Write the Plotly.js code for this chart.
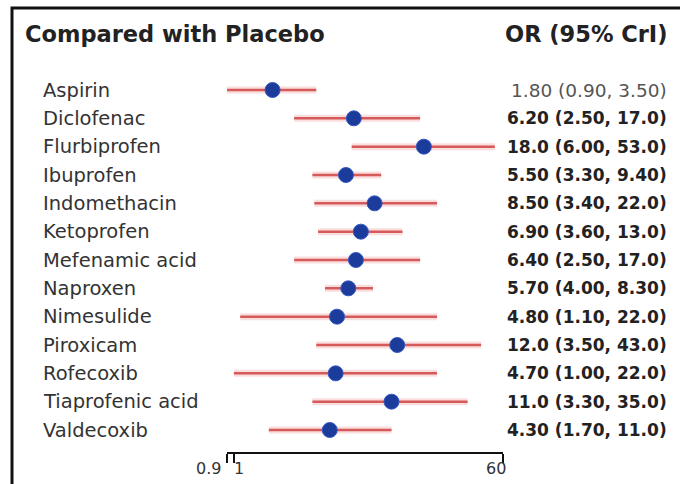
<!DOCTYPE html>
<html>
<head>
<meta charset="utf-8">
<script src="https://cdn.plot.ly/plotly-3.0.1.min.js"></script>
<style>html,body{margin:0;padding:0;background:#fff;}#chart{width:680px;height:484px;}</style>
</head>
<body>
<div id="chart"></div>
<script>
const drugs = ["Aspirin","Diclofenac","Flurbiprofen","Ibuprofen","Indomethacin","Ketoprofen","Mefenamic acid","Naproxen","Nimesulide","Piroxicam","Rofecoxib","Tiaprofenic acid","Valdecoxib"];
const orValues = [1.8, 6.2, 18, 5.5, 8.5, 6.9, 6.4, 5.7, 4.8, 12, 4.7, 11, 4.3];
const lowerCI = [0.9, 2.5, 6.0, 3.3, 3.4, 3.6, 2.5, 4.0, 1.1, 3.5, 1.0, 3.3, 1.7];
const upperCI = [3.5, 17, 53, 9.4, 22, 13, 17, 8.3, 22, 43, 22, 35, 11];
const tickValues = [0.9, 1, 60];
const tickLabels = ["0.9", "1", "60"];

const W = 680, H = 484;
const n = drugs.length;
const rowY = drugs.map((d, i) => n - 1 - i);
const fmt = v => v < 10 ? v.toFixed(2) : v.toFixed(1);
const orText = orValues.map((v, i) => `${fmt(v)} (${fmt(lowerCI[i])}, ${fmt(upperCI[i])})`);
const significant = lowerCI.map(l => l >= 1);

const errPlus = upperCI.map((u, i) => u - orValues[i]);
const errMinus = lowerCI.map((l, i) => orValues[i] - l);

const traces = [
  {
    x: orValues, y: rowY, type: 'scatter', mode: 'markers',
    marker: {size: 1, color: 'rgba(0,0,0,0)'},
    error_x: {type: 'data', symmetric: false, array: errPlus, arrayminus: errMinus,
      width: 0, thickness: 7, color: 'rgba(245,180,180,0.45)'},
    hoverinfo: 'skip', showlegend: false
  },
  {
    x: orValues, y: rowY, type: 'scatter', mode: 'markers',
    marker: {size: 15, color: '#1c3c9c', line: {width: 1, color: '#3558c0'}},
    error_x: {type: 'data', symmetric: false, array: errPlus, arrayminus: errMinus,
      width: 0, thickness: 2.5, color: '#d65a5a'},
    showlegend: false
  }
];

const yTopPx = 90, yBotPx = 430, axisPx = 452;
const unit = (yBotPx - yTopPx) / (n - 1);
const yLo = -(axisPx - yBotPx) / unit;
const yHi = (n - 1) + yTopPx / unit;

const annotations = [];
drugs.forEach((d, i) => {
  annotations.push({xref: 'paper', yref: 'y', x: 41 / W, y: rowY[i], text: d,
    showarrow: false, xanchor: 'left', yanchor: 'middle',
    font: {family: 'DejaVu Sans', size: 19.5, color: '#333'}});
  annotations.push({xref: 'paper', yref: 'y', x: 669 / W, y: rowY[i], text: orText[i],
    showarrow: false, xanchor: 'right', yanchor: 'middle',
    font: {family: 'DejaVu Sans', weight: significant[i] ? 'bold' : 'normal',
      size: significant[i] ? 17 : 18.5, color: significant[i] ? '#222' : '#555'}});
});
annotations.push({xref: 'paper', yref: 'paper', x: 23 / W, y: 1 - 34 / H, text: '<b>Compared with Placebo</b>',
  showarrow: false, xanchor: 'left', yanchor: 'middle', font: {family: 'DejaVu Sans', size: 22.5, color: '#222'}});
annotations.push({xref: 'paper', yref: 'paper', x: 670 / W, y: 1 - 34 / H, text: '<b>OR (95% CrI)</b>',
  showarrow: false, xanchor: 'right', yanchor: 'middle', font: {family: 'DejaVu Sans', size: 22.5, color: '#222'}});
const tickAnchors = ['right', 'left', 'center'];
const tickShift = [-4, -2, -7];
tickValues.forEach((v, i) => {
  annotations.push({xref: 'x', yref: 'paper', x: Math.log10(v), y: 1 - 468 / H, text: tickLabels[i],
    showarrow: false, xanchor: tickAnchors[i], yanchor: 'middle', xshift: tickShift[i],
    font: {family: 'DejaVu Sans', size: 16, color: '#333'}});
});

const layout = {
  width: W, height: H,
  margin: {l: 0, r: 0, t: 0, b: 0},
  paper_bgcolor: '#fff', plot_bgcolor: '#fff',
  xaxis: {
    type: 'log', range: [Math.log10(0.9), Math.log10(60)],
    domain: [227 / W, 503 / W],
    showgrid: false, zeroline: false, showline: true, linecolor: '#111', linewidth: 2,
    ticks: 'outside', ticklen: 9, tickwidth: 2, tickcolor: '#111',
    tickvals: tickValues, showticklabels: false
  },
  yaxis: {
    range: [yLo, yHi], domain: [(H - axisPx) / H, 1],
    showgrid: false, zeroline: false, showline: false, showticklabels: false, ticks: ''
  },
  shapes: [
    {type: 'line', xref: 'x', yref: 'y', x0: 0, x1: 0, y0: yLo, y1: (n - 1) + 10 / unit,
      line: {color: '#111', width: 2}, layer: 'below'},
    {type: 'rect', xref: 'paper', yref: 'paper', x0: 12 / W, x1: 1.2, y0: -0.2, y1: 1 - 8 / H,
      line: {color: '#111', width: 3}}
  ],
  annotations: annotations
};

Plotly.newPlot('chart', traces, layout, {staticPlot: true, displayModeBar: false});
</script>
</body>
</html>
